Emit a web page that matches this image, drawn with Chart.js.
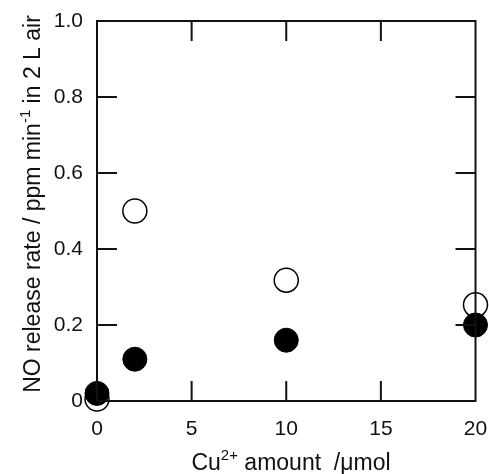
<!DOCTYPE html>
<html lang="en">
<head>
    <meta charset="UTF-8">
    <title>NO release rate vs Cu2+ amount</title>
    <script src="https://cdn.jsdelivr.net/npm/chart.js"></script>
    <style>
        html, body { margin: 0; padding: 0; background: #fff; }
        #wrap { width: 489px; height: 474px; }
    </style>
</head>
<body>
    <div id="wrap"><canvas id="chart" width="489" height="474"></canvas></div>

    <script>
        // values
        const cuAmount = [0, 2, 10, 20];
        const openRate = [0.005, 0.5, 0.318, 0.253];
        const filledRate = [0.02, 0.11, 0.16, 0.2];
        const xTickValues = [0, 5, 10, 15, 20];
        const yTickValues = [0, 0.2, 0.4, 0.6, 0.8, 1.0];

        const FONT = '"Liberation Sans", Arial, sans-serif';
        const INK = '#111';
        const TITLE_SIZE = 23;
        const SUP_SIZE = 15;

        // axis titles with superscripts
        const xTitle = [{ t: 'Cu' }, { t: '2+', sup: true }, { t: ' amount  /\u03bcmol' }];
        const yTitle = [{ t: 'NO release rate / ppm min' }, { t: '-1', sup: true }, { t: ' in 2 L air' }];

        function drawRich(ctx, parts, x, y, rotated) {
            ctx.save();
            ctx.translate(x, y);
            if (rotated) ctx.rotate(-Math.PI / 2);
            ctx.fillStyle = INK;
            ctx.textBaseline = 'alphabetic';
            ctx.textAlign = 'left';
            let total = 0;
            parts.forEach(p => {
                ctx.font = (p.sup ? SUP_SIZE : TITLE_SIZE) + 'px ' + FONT;
                p.w = ctx.measureText(p.t).width;
                total += p.w;
            });
            let cx = -total / 2;
            parts.forEach(p => {
                ctx.font = (p.sup ? SUP_SIZE : TITLE_SIZE) + 'px ' + FONT;
                ctx.fillText(p.t, cx, p.sup ? -10 : 0);
                cx += p.w;
            });
            ctx.restore();
        }

        // box frame with inward ticks on all four sides
        const framePlugin = {
            id: 'frame',
            afterDatasetsDraw(chart) {
                const { ctx, chartArea: a, scales } = chart;
                ctx.save();
                ctx.strokeStyle = INK;
                ctx.lineWidth = 2;
                ctx.strokeRect(a.left, a.top, a.right - a.left, a.bottom - a.top);
                const len = 20;
                ctx.beginPath();
                xTickValues.slice(1, -1).forEach(v => {
                    const px = scales.x.getPixelForValue(v);
                    ctx.moveTo(px, a.bottom); ctx.lineTo(px, a.bottom - len);
                    ctx.moveTo(px, a.top); ctx.lineTo(px, a.top + len);
                });
                yTickValues.slice(1, -1).forEach(v => {
                    const py = scales.y.getPixelForValue(v);
                    ctx.moveTo(a.left, py); ctx.lineTo(a.left + len, py);
                    ctx.moveTo(a.right, py); ctx.lineTo(a.right - len, py);
                });
                ctx.stroke();
                ctx.restore();
            },
            afterDraw(chart) {
                drawRich(chart.ctx, xTitle, 291, 470, false);
                drawRich(chart.ctx, yTitle, 40, 204, true);
            }
        };

        new Chart(document.getElementById('chart'), {
            type: 'scatter',
            data: {
                datasets: [
                    {
                        label: 'filled',
                        data: cuAmount.map((x, i) => ({ x, y: filledRate[i] })),
                        pointRadius: 12,
                        pointHoverRadius: 12,
                        pointBackgroundColor: '#000',
                        pointBorderColor: '#000',
                        pointBorderWidth: 1,
                        clip: false
                    },
                    {
                        label: 'open',
                        data: cuAmount.map((x, i) => ({ x, y: openRate[i] })),
                        pointRadius: 12,
                        pointHoverRadius: 12,
                        pointBackgroundColor: '#fff',
                        pointBorderColor: '#000',
                        pointBorderWidth: 1.5,
                        clip: false
                    }
                ]
            },
            options: {
                responsive: false,
                animation: false,
                events: [],
                layout: { padding: { left: 0, right: 13, top: 21, bottom: 0 } },
                plugins: { legend: { display: false }, tooltip: { enabled: false } },
                scales: {
                    x: {
                        type: 'linear',
                        min: 0,
                        max: 20,
                        border: { display: false },
                        grid: { display: false, drawTicks: false },
                        afterBuildTicks: s => { s.ticks = xTickValues.map(v => ({ value: v })); },
                        afterFit: s => { s.height = 73; s.paddingLeft = 0; s.paddingRight = 0; },
                        ticks: {
                            padding: 16,
                            color: INK,
                            font: { family: FONT, size: 21 },
                            maxRotation: 0,
                            callback: v => String(v)
                        }
                    },
                    y: {
                        type: 'linear',
                        min: 0,
                        max: 1,
                        border: { display: false },
                        grid: { display: false, drawTicks: false },
                        afterBuildTicks: s => { s.ticks = yTickValues.map(v => ({ value: v })); },
                        afterFit: s => { s.width = 97; s.paddingTop = 0; s.paddingBottom = 0; },
                        ticks: {
                            padding: 14,
                            color: INK,
                            font: { family: FONT, size: 21 },
                            callback: v => v === 0 ? '0' : v.toFixed(1)
                        }
                    }
                }
            },
            plugins: [framePlugin]
        });
    </script>
</body>
</html>
